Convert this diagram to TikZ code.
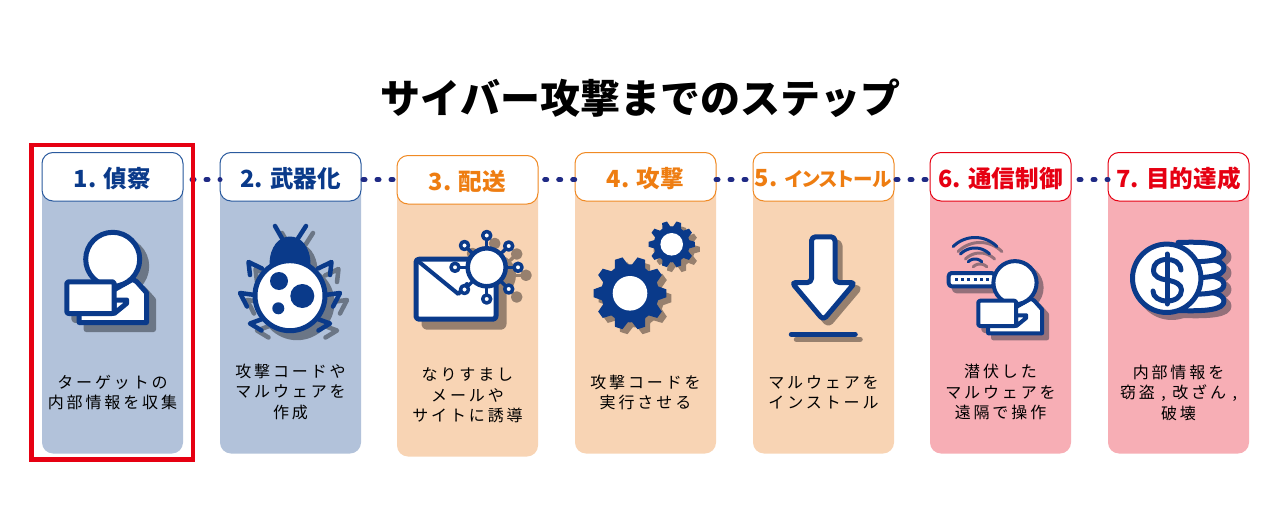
\documentclass[tikz,border=0pt]{standalone}
\usepackage{fontspec}
\setmainfont{Noto Sans CJK JP}
\newfontfamily\jpbody[LetterSpace=18]{Noto Sans CJK JP}
\newfontfamily\jphead{Noto Sans CJK JP}
\newfontfamily\jppalt[RawFeature=+palt]{Noto Sans CJK JP}
\definecolor{navyc}{HTML}{0A3A8A}
\definecolor{navyl}{HTML}{2A5A9E}
\definecolor{navyb}{HTML}{B2C2DA}
\definecolor{orc}{HTML}{EE7D11}
\definecolor{orl}{HTML}{F08A24}
\definecolor{orb}{HTML}{F8D4B4}
\definecolor{rdc}{HTML}{E60012}
\definecolor{rdb}{HTML}{F7AEB5}
\definecolor{shn}{HTML}{6B7686}
\definecolor{sho}{HTML}{97806E}
\definecolor{shr}{HTML}{94707A}
\definecolor{dotc}{HTML}{1F2A85}
\tikzset{
  bodybox/.style={rectangle,anchor=north west,outer sep=0pt,minimum width=141pt,minimum height=#1,rounded corners=11pt,inner sep=0pt},
  headbox/.style={rectangle,anchor=north west,outer sep=0pt,minimum width=141pt,minimum height=48.5pt,rounded corners=11pt,fill=white,line width=1pt,inner sep=0pt},
  headtxt/.style={font=\jphead\bfseries\fontsize{23.6}{28}\selectfont,yshift=-1.5pt,inner sep=0pt},
  bodytxt/.style={align=center,inner sep=0pt,text=black,font=\jpbody\fontsize{16}{20.5}\selectfont},
  link/.style={draw=dotc,line width=5pt,line cap=round,dash pattern=on 2pt off 12pt,dash phase=#1},
  icwhite/.style={draw=navyc,fill=white,line join=round},
  icline/.style={draw=navyc,line cap=round,line join=round},
  icsolid/.style={fill=navyc,draw=navyc,line join=round},
  ichole/.style={fill=white},
}
\newcommand\shadowed[3]{%
  \begin{scope}[shift={(#2,#2)},
    icwhite/.style={draw=#1,fill=#1,line join=round},
    icline/.style={draw=#1,line cap=round,line join=round},
    icsolid/.style={fill=#1,draw=#1,line join=round},
    ichole/.style={fill=#1}]
  #3
  \end{scope}
  #3
}
% person: x y scale linewidth
\newcommand\person[4]{%
  \begin{scope}[shift={(#1,#2)},scale=#3]
    \draw[icwhite,line width=#4] (20,20) -- (24,22.4) -- (33.8,33.4) -- (33.8,63.2) -- (-33.5,63.2) -- (-33.5,50) -- cycle;
    \draw[icwhite,line width=#4] (0,0) circle[radius=27];
    \draw[icwhite,line width=#4] (1.5,40.7) -- (14,40.7) -- (14,44) -- (1.5,54.2) -- cycle;
    \draw[icwhite,line width=#4,rounded corners=2pt] (-45.9,22.5) rectangle (1.5,54.2);
  \end{scope}
}
% gear: x y router rinner holer teeth offset
\newcommand\gear[7]{%
  \fill[icsolid,draw=none] (#1,#2) circle[radius=#4];
  \foreach \gi in {1,...,#6} {
    \pgfmathsetmacro\ga{#7+360*\gi/#6}
    \pgfmathsetmacro\wa{0.42*360/#6}
    \pgfmathsetmacro\wb{0.17*360/#6}
    \fill[icsolid,draw=none]
      ({#1+(#4-1)*cos(\ga-\wa)},{#2+(#4-1)*sin(\ga-\wa)}) --
      ({#1+#3*cos(\ga-\wb)},{#2+#3*sin(\ga-\wb)}) --
      ({#1+#3*cos(\ga+\wb)},{#2+#3*sin(\ga+\wb)}) --
      ({#1+(#4-1)*cos(\ga+\wa)},{#2+(#4-1)*sin(\ga+\wa)}) -- cycle;
  }
  \fill[ichole] (#1,#2) circle[radius=#5];
}
\newcommand\wifi[1]{%
  \draw[icline,line width=3pt] plot[domain=225:315,samples=24] ({975+#1*cos(\x)},{268.5+#1*sin(\x)});
}
% coin lobe: y centre
\newcommand\coin[1]{%
  \draw[icwhite,line width=5pt] (1178,{#1-9.5}) .. controls (1205,{#1-10.5}) and (1224,{#1-9}) .. (1224,#1) .. controls (1224,{#1+9}) and (1205,{#1+10.5}) .. (1178,{#1+9.5}) -- cycle;
}
\begin{document}
\begin{tikzpicture}[x=1pt,y=-1pt]
\useasboundingbox (0,0) rectangle (1282,516);
\fill[white] (0,0) rectangle (1282,516);

\node[font=\jphead\bfseries\fontsize{40}{44}\selectfont,text=black] (title) at (640.5,98) {サイバー攻撃までのステップ};

% bodies
\node[bodybox=301pt,fill=navyb] (b1) at (42,152.5) {};
\node[bodybox=301pt,fill=navyb] (b2) at (220,152.5) {};
\node[bodybox=301pt,fill=orb] (b3) at (397,155.5) {};
\node[bodybox=301pt,fill=orb] (b4) at (575,152.5) {};
\node[bodybox=301pt,fill=orb] (b5) at (753,152.5) {};
\node[bodybox=301pt,fill=rdb] (b6) at (930,152.5) {};
\node[bodybox=301pt,fill=rdb] (b7) at (1108,152.5) {};

% headers
\node[headbox,draw=navyl] (h1) at (42,152.5) {};
\node[headbox,draw=navyl] (h2) at (220,152.5) {};
\node[headbox,draw=orl] (h3) at (397,155.5) {};
\node[headbox,draw=orl] (h4) at (575,152.5) {};
\node[headbox,draw=orl] (h5) at (753,152.5) {};
\node[headbox,draw=rdc] (h6) at (930,152.5) {};
\node[headbox,draw=rdc] (h7) at (1108,152.5) {};

\node[headtxt,text=navyc] (t1) at (h1) {1. 偵察};
\node[headtxt,text=navyc] (t2) at (h2) {2. 武器化};
\node[headtxt,text=orc] (t3) at (h3) {3. 配送};
\node[headtxt,text=orc] (t4) at (h4) {4. 攻撃};
\node[headtxt,text=orc] (t5) at (h5) {5. {\jppalt\bfseries\fontsize{19.5}{24}\selectfont インストール}};
\node[headtxt,text=rdc] (t6) at (h6) {6. 通信制御};
\node[headtxt,text=rdc] (t7) at (h7) {7. 目的達成};

% connectors
\draw[link=5pt] ([yshift=-3pt]h1.east) -- ([yshift=-3pt]h2.west);
\draw[link=12pt] ([yshift=-3pt]h2.east) -- (h3.west);
\draw[link=7.3pt] (h3.east) -- ([yshift=-3pt]h4.west);
\draw[link=0pt] ([yshift=-3pt]h4.east) -- ([yshift=-3pt]h5.west);
\draw[link=12pt] ([yshift=-3pt]h5.east) -- ([yshift=-3pt]h6.west);
\draw[link=6pt] ([yshift=-3pt]h6.east) -- ([yshift=-3pt]h7.west);

% body text
\node[bodytxt] (c1) at (112.5,392.5) {ターゲットの\\内部情報を収集};
\node[bodytxt] (c2) at (290.5,391.5) {攻撃コードや\\マルウェアを\\作成};
\node[bodytxt] (c3) at (467.5,395.5) {なりすまし\\メールや\\サイトに誘導};
\node[bodytxt] (c4) at (645.5,392.5) {攻撃コードを\\実行させる};
\node[bodytxt] (c5) at (823.5,392.5) {マルウェアを\\インストール};
\node[bodytxt] (c6) at (1000.5,392) {潜伏した\\マルウェアを\\遠隔で操作};
\node[bodytxt] (c7) at (1178.5,392.5) {内部情報を\\窃盗 , 改ざん ,\\破壊};

% icon 1
\shadowed{shn}{7}{\person{112.7}{259.3}{1}{5pt}}

% icon 2 bug
\shadowed{shn}{7}{
  \draw[icline,line width=4.5pt] (275,226) -- (283,240);
  \draw[icline,line width=4.5pt] (306,226) -- (297,240);
  \draw[icsolid,line width=1pt] (270,265) .. controls (270,246) and (280,237) .. (290,237) .. controls (300,237) and (310,246) .. (310,265) -- cycle;
  \draw[icline,line width=4.5pt] (262,268.5) -- (248.5,262) -- (250,275);
  \draw[icline,line width=4.5pt] (318,268.5) -- (331.5,262) -- (330,275);
  \draw[icline,line width=4.5pt] (255,295) -- (240,293) -- (247,306.5);
  \draw[icline,line width=4.5pt] (325,295) -- (340,293) -- (333,306.5);
  \draw[icline,line width=4.5pt] (265,318) -- (250,323.5) -- (261.5,330.5);
  \draw[icline,line width=4.5pt] (315,318) -- (330,323.5) -- (318.5,330.5);
  \draw[icwhite,line width=5pt] (290,295.7) circle[radius=35];
  \fill[icsolid,draw=none] (279,281) circle[radius=9];
  \fill[icsolid,draw=none] (302.3,296) circle[radius=12];
  \fill[icsolid,draw=none] (278.3,308.3) circle[radius=6];
}

% icon 3 envelope + virus
\shadowed{sho}{8}{
  \draw[icwhite,line width=5pt,rounded corners=3pt] (416,259.2) rectangle (496,319.2);
  \draw[icline,line width=4pt] (416.7,260) -- (458.3,294) -- (467,284);
  \foreach \vx/\vy in {486.7/235.5, 508.7/246, 518/267.3, 508.7/289, 486.7/299, 464.5/289.5, 455/267.3, 464.5/245.5} {
    \draw[icline,line width=3.5pt] (486.7,267.3) -- (\vx,\vy);
    \draw[icwhite,line width=3.5pt] (\vx,\vy) circle[radius=4];
  }
  \draw[icwhite,line width=4.5pt] (486.7,267.3) circle[radius=19];
}

% icon 4 gears
\shadowed{sho}{5}{
  \gear{630}{293.3}{36.7}{29}{17.3}{10}{0}
  \gear{671.7}{244.3}{23.3}{18}{11.3}{10}{0}
}

% icon 5 download
\shadowed{sho}{5}{
  \draw[icwhite,line width=5pt,rounded corners=4pt] (811.5,236.8) -- (835,236.8) -- (835,282.5) -- (855,282.5) -- (823.3,320) -- (791.7,282.5) -- (811.5,282.5) -- cycle;
  \draw[icline,line width=5.5pt] (791.5,334.3) -- (855,334.3);
}

% icon 6 router + person
\shadowed{shr}{5}{
  \wifi{31}
  \wifi{20.5}
  \wifi{9.5}
  \draw[icwhite,line width=4pt,rounded corners=3pt] (948.7,273) rectangle (994.7,286.3);
  \draw[draw=navyc,line width=3pt,dash pattern=on 3pt off 3.2pt] (955,279.6) -- (990,279.6);
}
\shadowed{shr}{5}{\person{1015}{282.7}{0.8}{4pt}}

% icon 7 coins
\shadowed{shr}{5}{
  \coin{301}
  \coin{284.5}
  \coin{268}
  \coin{252}
  \draw[icwhite,line width=5pt] (1166.7,278.3) circle[radius=34.2];
}
\draw[icline,line width=5pt] (1181,270) .. controls (1180,262) and (1174,259.5) .. (1167,259.5) .. controls (1158,259.5) and (1153.5,264) .. (1153.5,270) .. controls (1153.5,277) and (1160,279) .. (1167,280) .. controls (1175,281.5) and (1181.5,284) .. (1181.5,290) .. controls (1181.5,297) and (1175,301) .. (1167,301) .. controls (1159,301) and (1153,297) .. (1153,291);
\draw[icline,line width=5pt] (1167,254) -- (1167,304);

% highlight
\node[rectangle,draw=rdc,line width=4.5pt,anchor=north west,outer sep=0pt,minimum width=161.5pt,minimum height=314.5pt,inner sep=0pt] (hl) at (31.5,145) {};
\end{tikzpicture}
\end{document}
